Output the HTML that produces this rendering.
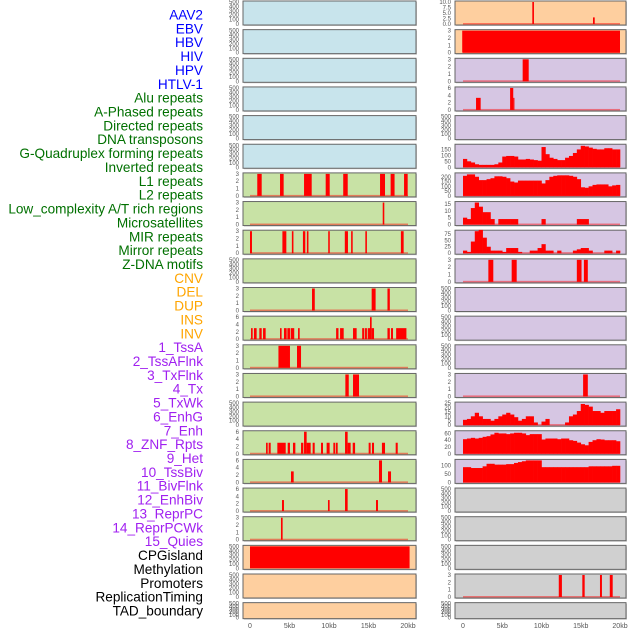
<!DOCTYPE html>
<html><head><meta charset="utf-8"><style>
body{margin:0;background:#fff;width:630px;height:630px;overflow:hidden}
svg{display:block;font-family:"Liberation Sans",sans-serif}
</style></head><body>
<svg id="c" width="630" height="630"></svg>
<script>
const labels=["AAV2","EBV","HBV","HIV","HPV","HTLV-1","Alu repeats","A-Phased repeats","Directed repeats","DNA transposons","G-Quadruplex forming repeats","Inverted repeats","L1 repeats","L2 repeats","Low_complexity A/T rich regions","Microsatellites","MIR repeats","Mirror repeats","Z-DNA motifs","CNV","DEL","DUP","INS","INV","1_TssA","2_TssAFlnk","3_TxFlnk","4_Tx","5_TxWk","6_EnhG","7_Enh","8_ZNF_Rpts","9_Het","10_TssBiv","11_BivFlnk","12_EnhBiv","13_ReprPC","14_ReprPCWk","15_Quies","CPGisland","Methylation","Promoters","ReplicationTiming","TAD_boundary"];
const labelColors=[...Array(6).fill("#0000ff"),...Array(13).fill("#007000"),...Array(5).fill("#ffa500"),...Array(15).fill("#a020f0"),...Array(5).fill("#000")];
const leftBg=["b","b","b","b","b","b","g","g","g","g","g","g","g","g","g","g","g","g","g","o","o","o"];
const rightBg=["o","o","p","p","p","p","p","p","p","p","p","p","p","p","p","p","p","y","y","y","y","y"];
const leftMax=[0,0,0,0,0,0,3,3,3,0,3,6,3,3,0,6,6,6,3,500,0,0];
const rightMax=[10,3,3,6,0,185,230,16,85,3,0,0,0,3,25,65,130,0,0,0,3,0];
const rightTicks=[[0,2.5,5,7.5,10],[0,1,2,3],[0,1,2,3],[0,2,4,6],null,[0,50,100,150],[0,50,100,150,200],[0,5,10,15],[0,25,50,75],[0,1,2,3],null,null,null,[0,1,2,3],[0,5,10,15,20,25],[0,20,40,60],[0,50,100],null,null,null,[0,1,2,3],null];
// segments [startKb,endKb,value]
const leftSegs={
6:[[0.92,1.48,3],[3.8,4.26,3],[6.84,7.81,3],[9.58,10.09,3],[11.8,12.37,3],[16.46,17.09,3],[17.8,18.3,3],[19.5,19.96,3]],
7:[[16.8,17.0,3]],
8:[[0,0.25,3],[4.1,4.6,3],[5.3,5.5,3],[6.7,7.0,3],[7.2,7.4,3],[9.9,10.1,3],[12.0,12.4,3],[12.8,13.0,3],[14.6,14.8,3],[19.1,19.45,3]],
10:[[7.85,8.2,3],[15.4,15.9,3],[17.4,17.7,3]],
11:[[0.13,0.34,3],[0.5,0.84,3],[1.18,1.48,3],[1.65,1.98,3],[3.8,4.0,3],[4.3,4.64,3],[4.73,5.06,3],[5.15,5.6,3],[6.08,6.29,3],[10.9,11.2,3],[11.4,11.86,3],[13.04,13.5,3],[14.2,14.47,3],[14.56,14.8,3],[14.9,15.19,3],[15.19,15.4,6],[15.4,15.7,3],[17.4,17.7,3],[17.85,18.1,3],[18.5,19.8,3]],
12:[[3.6,5.06,3],[5.95,6.46,3]],
13:[[12.07,12.5,3],[13.04,13.8,3]],
15:[[2.03,2.24,3],[2.36,2.62,3],[3.46,4.52,3],[4.77,5.06,3],[5.44,5.74,3],[6.46,6.75,3],[6.84,7.17,6],[7.17,7.68,3],[7.93,8.19,3],[8.99,9.24,3],[9.7,10.08,3],[10.55,10.76,3],[10.85,11.1,3],[12.03,12.36,6],[12.36,12.74,3],[13.0,13.3,3],[15.02,15.27,3],[15.44,15.7,3],[16.7,17.09,3],[18.44,18.7,3]],
16:[[5.19,5.53,3],[16.33,16.71,6],[17.47,17.85,3]],
17:[[4.05,4.3,3],[9.87,10.08,3],[12.03,12.36,6],[15.95,16.2,3]],
18:[[3.92,4.13,3]],
19:[[0,20.2,500]]
};
const rightSegs={
0:[[8.83,9.04,10],[16.56,16.78,3]],
1:[[-0.1,20,3]],
2:[[7.6,8.37,3]],
3:[[1.66,2.25,3.3],[6.0,6.4,6],[6.4,6.55,3.3]],
9:[[3.23,3.86,3],[6.2,6.84,3],[14.5,15.1,3],[15.4,15.9,3]],
13:[[15.3,15.9,3]],
20:[[12.2,12.6,3],[15.2,15.5,3],[17.45,17.7,3],[18.7,19.07,3]]
};
// 40 bins of 0.5kb
const rightProfiles={
5:[70,50,40,25,20,20,20,20,25,40,90,95,95,90,65,65,70,65,60,55,170,110,80,70,60,60,80,95,120,150,180,175,165,155,150,150,160,160,150,150],
6:[210,225,225,200,165,165,175,185,205,205,200,185,150,140,160,160,160,160,160,160,130,165,200,210,215,215,215,210,200,175,90,85,100,115,120,120,120,100,110,115],
7:[5,4,12,16,13,9,9,4,0,4,4,4,4,4,0,0,0,0,0,0,4,0,0,0,0,0,0,0,0,4,4,4,0,0,0,0,0,0,0,0],
8:[10,5,45,85,90,60,25,10,10,10,5,20,20,20,5,0,0,10,10,20,35,10,10,0,10,0,0,0,10,15,20,20,10,0,0,0,10,10,0,10],
14:[6,7,10,14,10,7,7,5,7,10,12,14,12,9,5,7,10,10,3,0,4,7,0,0,0,0,3,10,12,16,24,23,21,16,16,14,16,16,16,18],
15:[43,45,47,45,47,50,52,57,62,60,60,58,60,62,62,60,55,58,58,58,42,45,45,45,43,45,45,40,38,33,28,25,35,40,43,42,40,40,40,37],
16:[90,90,85,85,85,95,110,110,105,105,105,108,108,115,120,125,130,130,130,130,90,90,90,90,90,90,90,90,90,90,90,90,95,95,95,95,95,95,98,98]
};
const xTicks=[0,5,10,15,20];
const xTickLabels=["0","5kb","10kb","15kb","20kb"];

const NS="http://www.w3.org/2000/svg";
const svg=document.getElementById("c");
const bgColors={b:"#c8e4ec",g:"#c8e2a5",o:"#fecf9f",p:"#d6c6e3",y:"#d0d0d0"};
function mk(tag,attrs,parent){const e=document.createElementNS(NS,tag);for(const k in attrs)e.setAttribute(k,attrs[k]);(parent||svg).appendChild(e);return e;}
function panelTop(i){return 1+i*28.65;}
function panelH(i){return i===21?16:24;}
const cols=[{x:243,w:173,x0:250,s:7.9,tickX:239},{x:455,w:171,x0:463,s:7.85,tickX:451}];
function xs(c,kb){return cols[c].x0+kb*cols[c].s;}

labels.forEach((t,i)=>{
  const e=mk("text",{x:203,y:15+i*13.86+4.5,"text-anchor":"end","font-size":"13.6",fill:labelColors[i]});
  e.textContent=t;
  
  
});

function drawPanel(c,i,bg,ymax,ticks,segs,prof){
  const col=cols[c],t=panelTop(i),h=panelH(i);
  const g=mk("g",{});
  
  
  mk("rect",{x:col.x+1,y:t+1,width:col.w,height:h,fill:"#999",opacity:0.5},g);
  mk("rect",{x:col.x,y:t,width:col.w,height:h,fill:bgColors[bg],stroke:"#666","stroke-width":1},g);
  const y0=t+h-1,yt=t+1;
  const scale=ymax||500;
  const ys=v=>y0-(v/scale)*(y0-yt);
  let tk=ticks;
  if(!tk) tk= ymax? (ymax===500?[0,100,200,300,400,500]:[0,1,2,3].filter(v=>v<=ymax)) : [0,100,200,300,400,500];
  if(c===0&&ymax===6) tk=[0,2,4,6];
  tk.forEach(v=>{
    const e=mk("text",{x:col.tickX,y:ys(v)+2,"text-anchor":"end","font-size":"6",fill:"#555"},g);
    e.textContent=(ticks&&ticks.includes(2.5))?v.toFixed(1):v;
  });
  if(ymax&&ymax!==500){
    mk("rect",{x:xs(c,0),y:y0-1,width:xs(c,20)-xs(c,0),height:1.5,fill:"#ff0000",opacity:0.45},g);
  }
  if(segs) segs.forEach(s=>{
    const r=mk("rect",{x:xs(c,s[0]),y:ys(s[2]),width:Math.max(1,xs(c,s[1])-xs(c,s[0])),height:y0-ys(s[2]),fill:"#ff0000"},g);
    
    
  });
  if(prof){
    prof.forEach((v,k)=>{
      if(!v) return;
      const r=mk("rect",{x:xs(c,k*0.5),y:ys(v),width:xs(c,(k+1)*0.5)-xs(c,k*0.5)+0.3,height:y0-ys(v),fill:"#ff0000"},g);
      
      
    });
  }
}
for(let i=0;i<22;i++){
  drawPanel(0,i,leftBg[i],leftMax[i],null,leftSegs[i],null);
  drawPanel(1,i,rightBg[i],rightMax[i],rightTicks[i],rightSegs[i],rightProfiles[i]);
}
[0,1].forEach(c=>{
  xTicks.forEach((v,j)=>{
    const e=mk("text",{x:xs(c,v),y:628,"text-anchor":"middle","font-size":"7",fill:"#555"});
    e.textContent=xTickLabels[j];
    
    
  });
});
</script>
</body></html>
